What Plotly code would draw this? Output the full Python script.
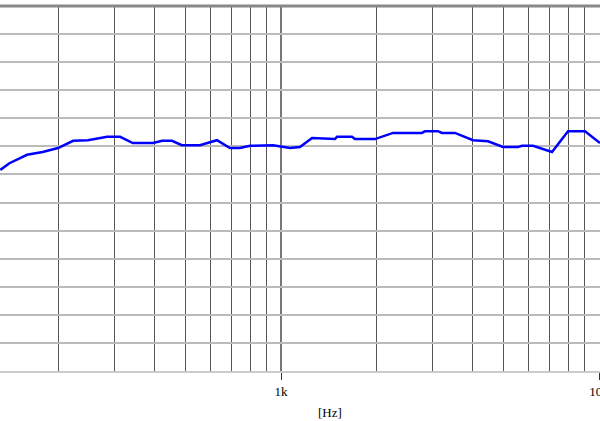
import plotly.graph_objects as go

# frequency response
freq = [131, 140, 159, 178, 199, 222, 247, 284, 312, 342, 396, 423, 454, 488,
        556, 598, 629, 691, 743, 799, 944, 1067, 1147, 1252, 1478, 1500, 1672,
        1709, 1975, 2250, 2776, 2837, 3117, 3208, 3525, 4016, 4477, 4991, 5564,
        5727, 6201, 7116, 7991, 9036, 10070]
level = [65.8, 67.0, 68.5, 69.0, 69.7, 71.0, 71.1, 71.7, 71.7, 70.6, 70.6, 71.0,
         71.0, 70.2, 70.2, 70.8, 71.1, 69.7, 69.7, 70.1, 70.2, 69.7, 69.9, 71.5,
         71.3, 71.7, 71.7, 71.3, 71.3, 72.4, 72.4, 72.7, 72.7, 72.4, 72.4, 71.1,
         70.9, 69.9, 69.9, 70.1, 70.1, 69.0, 72.7, 72.7, 70.6]

major_ticks = [1000, 10000]
major_labels = ["1k", "10k"]
minor_ticks = [200, 300, 400, 500, 600, 700, 800, 900,
               2000, 3000, 4000, 5000, 6000, 7000, 8000, 9000]

fig = go.Figure()
fig.add_trace(go.Scatter(x=freq, y=level, mode="lines",
                         line=dict(color="#0000ff", width=2.5),
                         hoverinfo="skip"))

fig.update_layout(
    width=600, height=421,
    margin=dict(l=0, r=0, t=6, b=50),
    plot_bgcolor="white", paper_bgcolor="white",
    showlegend=False,
    font=dict(family="Liberation Serif", size=13, color="black"),
)

fig.update_xaxes(
    type="log", range=[2.1164, 4.0031], automargin=False,
    tickvals=major_ticks, ticktext=major_labels, ticklabeloverflow="allow",
    ticks="outside", ticklen=7, tickcolor="#333", tickwidth=1,
    showgrid=True, gridcolor="#777", gridwidth=1.5,
    minor=dict(tickvals=minor_ticks, showgrid=True, gridcolor="#555",
               gridwidth=1, ticks=""),
    showline=True, linecolor="#ccc", linewidth=2,
    zeroline=False,
)
fig.update_yaxes(
    range=[30, 95], dtick=5, tick0=30, automargin=False,
    showticklabels=False, ticks="",
    showgrid=True, gridcolor="#bbb", gridwidth=2,
    zeroline=False, showline=False,
)

# dark frame line along the top
fig.add_shape(type="line", xref="paper", yref="paper", x0=0, x1=1, y0=1, y1=1,
              line=dict(color="#888", width=3))

fig.add_annotation(text="[Hz]", xref="paper", yref="paper", x=0.55, y=-0.115,
                   showarrow=False, yanchor="middle",
                   font=dict(family="Liberation Serif", size=13, color="black"))

# drop the browser's default page margin so the figure sits at the corner
fig.write_html("out.html",
               config={"displayModeBar": False, "staticPlot": True},
               post_script="document.body.style.margin='0';"
                           "document.body.style.overflow='hidden';")
